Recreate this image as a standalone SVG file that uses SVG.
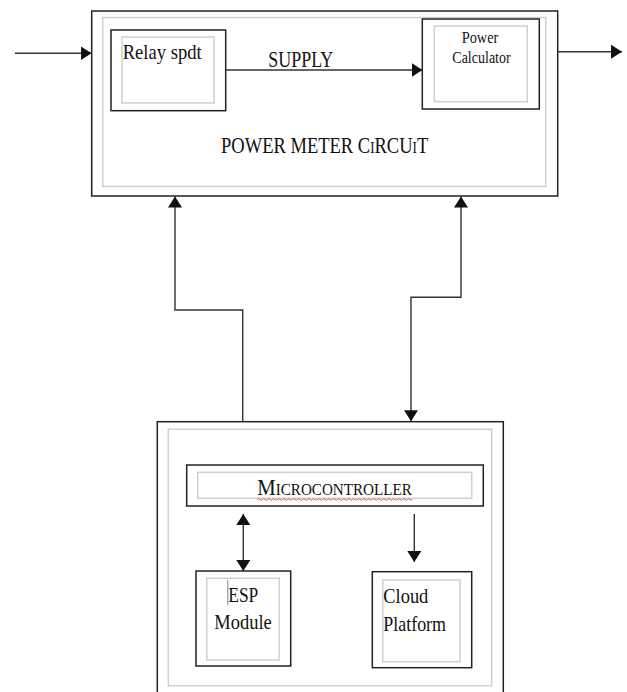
<svg xmlns="http://www.w3.org/2000/svg" width="627" height="692" viewBox="0 0 627 692">
<style>
.frame{fill:#fff;stroke:#222;stroke-width:1.5}
.inner{fill:none;stroke:#cfcfcf;stroke-width:1.5}
.conn{fill:none;stroke:#333;stroke-width:1.4}
.t{font-family:"Liberation Serif","Times New Roman",serif;fill:#111}
</style>
<defs>
<marker id="ah" markerUnits="userSpaceOnUse" markerWidth="12" markerHeight="14" refX="11" refY="7" orient="auto-start-reverse">
<path d="M0,0 L11,7 L0,14 Z" fill="#111"/>
</marker>
</defs>
<rect width="627" height="692" fill="#fff"/>

<g id="power-meter-circuit">
<rect class="frame" x="91.7" y="11" width="466" height="185"/>
<rect class="inner" x="102.7" y="17.5" width="443" height="169"/>
<text class="t" transform="translate(221,153.3) scale(0.772,1)" x="0" y="0" font-size="24">POWER METER C<tspan font-size="17">I</tspan>RCU<tspan font-size="17">I</tspan>T</text>
</g>

<g id="relay-spdt">
<rect class="frame" x="111" y="30" width="114.7" height="80.7"/>
<rect class="inner" x="122" y="37" width="92" height="66"/>
<text class="t" x="122.7" y="59.3" font-size="21.5" textLength="79" lengthAdjust="spacingAndGlyphs">Relay spdt</text>
</g>

<g id="power-calculator">
<rect class="frame" x="422.3" y="19" width="117" height="90"/>
<rect class="inner" x="434.3" y="26" width="93" height="75.7"/>
<text class="t" x="461.7" y="43.3" font-size="17.5" textLength="36.6" lengthAdjust="spacingAndGlyphs">Power</text>
<text class="t" x="452.3" y="63.3" font-size="17.5" textLength="58.4" lengthAdjust="spacingAndGlyphs">Calculator</text>
</g>

<g id="microcontroller-unit">
<rect class="frame" x="157.3" y="421.7" width="346" height="272"/>
<rect class="inner" x="168.3" y="429.3" width="323.4" height="256.4"/>
</g>

<g id="microcontroller">
<rect class="frame" x="186.7" y="465" width="296.6" height="41"/>
<rect class="inner" x="197.7" y="472.3" width="274" height="26"/>
<text class="t" transform="translate(257.3,495) scale(0.864,1)" x="0" y="0" font-size="24">M<tspan font-size="17.5">ICROCONTROLLER</tspan></text>
<path d="M257.5,499.5 q1.25,-1.6 2.5,0 t2.5,0 t2.5,0 t2.5,0 t2.5,0 t2.5,0 t2.5,0 t2.5,0 t2.5,0 t2.5,0 t2.5,0 t2.5,0 t2.5,0 t2.5,0 t2.5,0 t2.5,0 t2.5,0 t2.5,0 t2.5,0 t2.5,0 t2.5,0 t2.5,0 t2.5,0 t2.5,0 t2.5,0 t2.5,0 t2.5,0 t2.5,0 t2.5,0 t2.5,0 t2.5,0 t2.5,0 t2.5,0 t2.5,0 t2.5,0 t2.5,0 t2.5,0 t2.5,0 t2.5,0 t2.5,0 t2.5,0 t2.5,0 t2.5,0 t2.5,0 t2.5,0 t2.5,0 t2.5,0 t2.5,0 t2.5,0 t2.5,0 t2.5,0 t2.5,0 t2.5,0 t2.5,0 t2.5,0 t2.5,0 t2.5,0 t2.5,0 t2.5,0 t2.5,0 t2.5,0 t2.5,0" fill="none" stroke="#e03030" stroke-width="0.8"/>
</g>

<g id="esp-module">
<rect class="frame" x="196" y="571" width="94.7" height="95"/>
<rect class="inner" x="206.7" y="578.3" width="72.6" height="81.7"/>
<line x1="227.8" y1="580" x2="227.8" y2="605" stroke="#666" stroke-width="0.8"/>
<text class="t" x="228.3" y="601.7" font-size="20" textLength="30" lengthAdjust="spacingAndGlyphs">ESP</text>
<text class="t" x="214.3" y="629.3" font-size="20" textLength="57.4" lengthAdjust="spacingAndGlyphs">Module</text>
</g>

<g id="cloud-platform">
<rect class="frame" x="372.3" y="571.7" width="99.4" height="96"/>
<rect class="inner" x="382.7" y="580" width="77.3" height="81.7"/>
<text class="t" x="383.3" y="602.7" font-size="21" textLength="45" lengthAdjust="spacingAndGlyphs">Cloud</text>
<text class="t" x="383.3" y="630.7" font-size="21" textLength="62.7" lengthAdjust="spacingAndGlyphs">Platform</text>
</g>

<g id="connectors">
<line class="conn" x1="15" y1="53.3" x2="91.5" y2="53.3" marker-end="url(#ah)"/>
<line class="conn" x1="225.7" y1="70" x2="422.5" y2="70" marker-end="url(#ah)"/>
<text class="t" x="268.3" y="66.7" font-size="22.5" textLength="65" lengthAdjust="spacingAndGlyphs">SUPPLY</text>
<line class="conn" x1="557.7" y1="51.7" x2="622" y2="51.7" marker-end="url(#ah)"/>
<polyline class="conn" points="242.7,421.7 242.7,310 175,310 175,196.5" marker-end="url(#ah)"/>
<polyline class="conn" points="411,421.3 411,297.3 461,297.3 461,196.5" marker-start="url(#ah)" marker-end="url(#ah)"/>
<line class="conn" x1="243.3" y1="514" x2="243.3" y2="571" marker-start="url(#ah)" marker-end="url(#ah)"/>
<line class="conn" x1="414.3" y1="514" x2="414.3" y2="562" marker-end="url(#ah)"/>
</g>
</svg>
